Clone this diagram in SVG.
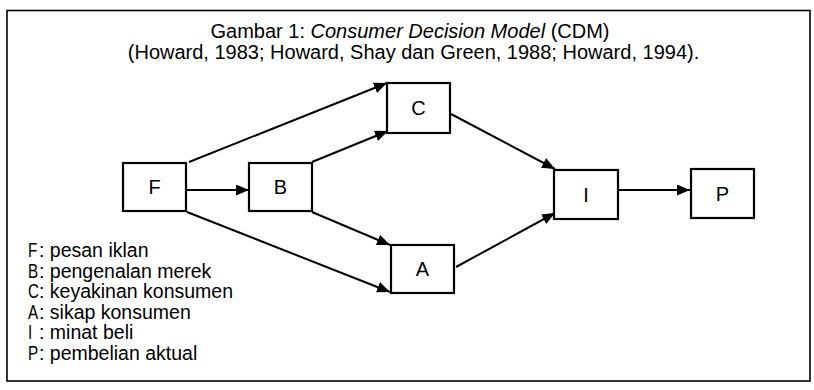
<svg xmlns="http://www.w3.org/2000/svg" width="814" height="390" viewBox="0 0 814 390">
<style>
  text { font-family: "Liberation Sans", Arial, sans-serif; fill: #000; }
  .title { font-size: 20px; text-anchor: middle; }
  .node rect { fill: #fff; stroke: #000; stroke-width: 2.2; }
  .node text { font-size: 20px; text-anchor: middle; }
  .conn line { stroke: #000; stroke-width: 2; }
  .legend text { font-size: 19.5px; }
</style>
<defs>
  <marker id="arr" markerUnits="userSpaceOnUse" markerWidth="13" markerHeight="11" refX="13" refY="5.5" orient="auto">
    <path d="M0,0 L13,5.5 L0,11 z" fill="#000"/>
  </marker>
</defs>
<rect x="7" y="10.5" width="803" height="370.5" fill="#fff" stroke="#000" stroke-width="1.6"/>
<g id="title">
  <text class="title" x="410" y="37.5">Gambar 1: <tspan font-style="italic">Consumer Decision Model</tspan> (CDM)</text>
  <text class="title" x="413.5" y="58.5">(Howard, 1983; Howard, Shay dan Green, 1988; Howard, 1994).</text>
</g>
<g id="connectors" class="conn">
  <line x1="186" y1="190" x2="249" y2="190" marker-end="url(#arr)"/>
  <line x1="189" y1="162" x2="387" y2="83" marker-end="url(#arr)"/>
  <line x1="312" y1="162" x2="388" y2="131" marker-end="url(#arr)"/>
  <line x1="187" y1="212" x2="390" y2="292" marker-end="url(#arr)"/>
  <line x1="312" y1="212" x2="390" y2="245" marker-end="url(#arr)"/>
  <line x1="451" y1="114" x2="555" y2="169" marker-end="url(#arr)"/>
  <line x1="456" y1="267" x2="555" y2="213" marker-end="url(#arr)"/>
  <line x1="616" y1="190" x2="690" y2="190" marker-end="url(#arr)"/>
</g>
<g id="node-F" class="node"><rect x="123" y="163" width="63" height="48"/><text x="154.5" y="194">F</text></g>
<g id="node-B" class="node"><rect x="249" y="163" width="63" height="48"/><text x="280.5" y="194">B</text></g>
<g id="node-C" class="node"><rect x="387" y="83" width="63" height="50"/><text x="418.5" y="115">C</text></g>
<g id="node-A" class="node"><rect x="391" y="245" width="63" height="48"/><text x="422.5" y="276">A</text></g>
<g id="node-I" class="node"><rect x="554" y="170" width="64" height="49"/><text x="586" y="201.5">I</text></g>
<g id="node-P" class="node"><rect x="691" y="169" width="63" height="49"/><text x="722.5" y="200.5">P</text></g>
<g id="legend" class="legend">
  <text transform="translate(28 257) scale(0.78 1)">F</text><text x="39" y="257">: pesan iklan</text>
  <text transform="translate(28 277.5) scale(0.78 1)">B</text><text x="39" y="277.5">: pengenalan merek</text>
  <text transform="translate(28 298) scale(0.78 1)">C</text><text x="39" y="298">: keyakinan konsumen</text>
  <text transform="translate(28 318.5) scale(0.78 1)">A</text><text x="39" y="318.5">: sikap konsumen</text>
  <text transform="translate(28 339) scale(0.78 1)">I</text><text x="39" y="339">: minat beli</text>
  <text transform="translate(28 359.5) scale(0.78 1)">P</text><text x="39" y="359.5">: pembelian aktual</text>
</g>
</svg>
